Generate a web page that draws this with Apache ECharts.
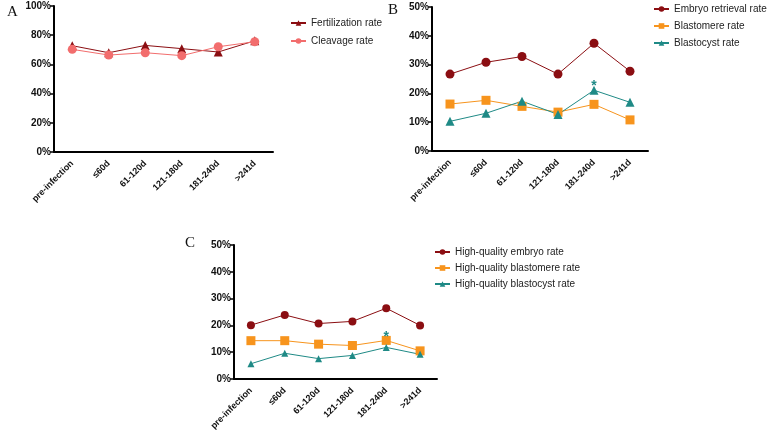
<!DOCTYPE html>
<html>
<head>
<meta charset="utf-8">
<script src="https://cdn.jsdelivr.net/npm/echarts@6/dist/echarts.min.js"></script>
<style>
  html, body { margin: 0; padding: 0; background: #fff; }
  #main { width: 767px; height: 434px; }
</style>
</head>
<body>
<div id="main"></div>
<script>
// categories
const periods = ['pre-infection', '≤60d', '61-120d', '121-180d', '181-240d', '>241d'];

// panel A
const fertilizationRate = [72.8, 68.0, 73.0, 70.8, 68.5, 76.2];
const cleavageRate = [70.3, 66.4, 68.0, 66.0, 72.1, 75.5];

// panel B
const embryoRetrievalRate = [26.7, 30.8, 32.8, 26.7, 37.4, 27.7];
const blastomereRate = [16.3, 17.6, 15.5, 13.5, 16.2, 10.8];
const blastocystRate = [10.3, 13.1, 17.3, 12.7, 21.1, 16.9];

// panel C
const hqEmbryoRate = [20.1, 23.9, 20.7, 21.5, 26.4, 20.0];
const hqBlastomereRate = [14.3, 14.3, 13.0, 12.5, 14.4, 10.5];
const hqBlastocystRate = [5.7, 9.6, 7.6, 8.8, 11.8, 9.2];

// significance stars: category and height (%)
const starB = ['181-240d', 23.7];
const starC = ['181-240d', 16.8];

const font = 'Liberation Sans, Arial, sans-serif';
const cDarkRed = '#8b0e12';
const cPink = '#f26d6d';
const cOrange = '#f7941d';
const cTeal = '#1f8a86';

function xAxisFor(gi) {
  return {
    type: 'category',
    gridIndex: gi,
    data: periods,
    boundaryGap: true,
    axisLine: { lineStyle: { color: '#000', width: 2 } },
    axisTick: { alignWithLabel: true, length: 5, lineStyle: { color: '#000', width: 1.5 } },
    axisLabel: { rotate: 45, interval: 0, margin: 10, color: '#111', fontWeight: 'bold', fontSize: 9, fontFamily: font }
  };
}

function yAxisFor(gi, max, step) {
  return {
    type: 'value',
    gridIndex: gi,
    min: 0, max: max, interval: step,
    axisLine: { show: true, lineStyle: { color: '#000', width: 2 } },
    axisTick: { show: true, length: 4, lineStyle: { color: '#000', width: 1.5 } },
    splitLine: { show: false },
    axisLabel: { formatter: '{value}%', margin: 3, color: '#111', fontWeight: 'bold', fontSize: 10, fontFamily: font }
  };
}

function lineSeries(name, data, gi, color, symbol, size, star) {
  const s = {
    name: name,
    type: 'line',
    xAxisIndex: gi,
    yAxisIndex: gi,
    data: data,
    symbol: symbol,
    symbolSize: size,
    showSymbol: true,
    lineStyle: { color: color, width: 1 },
    itemStyle: { color: color },
    emphasis: { disabled: true }
  };
  if (star) {
    s.markPoint = {
      silent: true,
      symbol: 'circle',
      symbolSize: 0,
      data: [{ coord: star }],
      label: { show: true, position: 'inside', formatter: '*', offset: [0, 3], color: color, fontSize: 14, fontWeight: 'bold', fontFamily: font }
    };
  }
  return s;
}

function legendFor(names, left, top, gap) {
  return {
    data: names,
    orient: 'vertical',
    left: left,
    top: top,
    padding: 0,
    itemWidth: 15,
    itemHeight: 7,
    itemGap: gap,
    textStyle: { color: '#222', fontSize: 10, lineHeight: 12, fontFamily: font }
  };
}

const panelTitle = (text, left, top) => ({
  text: text, left: left, top: top,
  textStyle: { fontFamily: 'Liberation Serif, Times New Roman, serif', fontWeight: 'normal', fontSize: 15, color: '#111' }
});

const option = {
  backgroundColor: '#fff',
  animation: false,
  title: [
    panelTitle('A', 2, 0),
    panelTitle('B', 383, -2),
    panelTitle('C', 180, 231)
  ],
  grid: [
    { left: 54, top: 6, width: 219, height: 146 },
    { left: 432, top: 7, width: 216, height: 144 },
    { left: 234, top: 245, width: 203, height: 134 }
  ],
  xAxis: [xAxisFor(0), xAxisFor(1), xAxisFor(2)],
  yAxis: [yAxisFor(0, 100, 20), yAxisFor(1, 50, 10), yAxisFor(2, 50, 10)],
  legend: [
    legendFor(['Fertilization rate', 'Cleavage rate'], 290, 17, 6),
    legendFor(['Embryo retrieval rate', 'Blastomere rate', 'Blastocyst rate'], 653, 3, 5),
    legendFor(['High-quality embryo rate', 'High-quality blastomere rate', 'High-quality blastocyst rate'], 434, 246, 4)
  ],
  series: [
    lineSeries('Fertilization rate', fertilizationRate, 0, cDarkRed, 'triangle', 9),
    lineSeries('Cleavage rate', cleavageRate, 0, cPink, 'circle', 9),
    lineSeries('Embryo retrieval rate', embryoRetrievalRate, 1, cDarkRed, 'circle', 9),
    lineSeries('Blastomere rate', blastomereRate, 1, cOrange, 'rect', 9),
    lineSeries('Blastocyst rate', blastocystRate, 1, cTeal, 'triangle', 9, starB),
    lineSeries('High-quality embryo rate', hqEmbryoRate, 2, cDarkRed, 'circle', 8),
    lineSeries('High-quality blastomere rate', hqBlastomereRate, 2, cOrange, 'rect', 9),
    lineSeries('High-quality blastocyst rate', hqBlastocystRate, 2, cTeal, 'triangle', 7, starC)
  ]
};

const chart = echarts.init(document.getElementById('main'));
chart.setOption(option);
</script>
</body>
</html>
